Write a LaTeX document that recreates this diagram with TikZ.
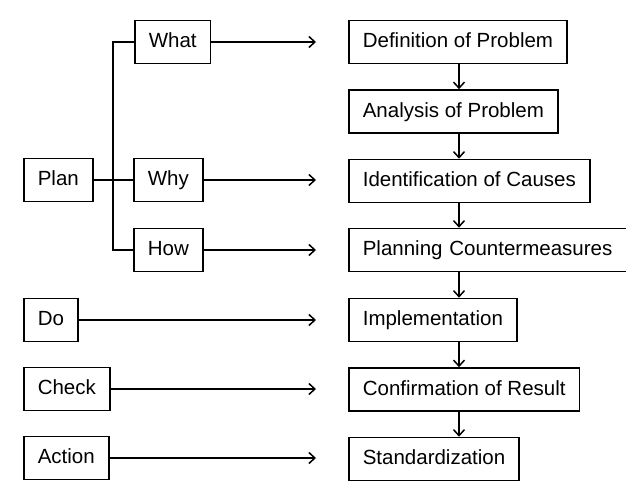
\documentclass[tikz,border=0pt]{standalone}
\usepackage{fontspec}
\setmainfont{Liberation Sans}
\usetikzlibrary{arrows.meta}
\begin{document}
\begin{tikzpicture}[x=1pt,y=-1pt,
  box/.style={draw, line width=1.6pt, minimum height=43pt, inner xsep=14pt, inner ysep=0pt,
    text height=15pt, text depth=4pt,
    font=\fontsize{20.5}{24}\selectfont, anchor=west},
  conn/.style={line width=1.5pt},
  arr/.style={line width=1.5pt, -{Straight Barb[length=6pt,width=11pt,line width=1.5pt]}}]
\useasboundingbox[fill=white] (0,0) rectangle (626,487);
% left column
\node[box] (what) at (134,42) {What};
\node[box] (plan) at (23,180) {Plan};
\node[box] (why) at (133,180) {Why};
\node[box] (how) at (133,250) {How};
\node[box] (do) at (23,320) {Do};
\node[box] (check) at (23,389) {Check};
\node[box] (act) at (23,458) {Action};
% right column
\node[box] (def) at (348,42) {Definition of Problem};
\node[box] (ana) at (348,111.5) {Analysis of Problem};
\node[box] (ide) at (348,181) {Identification of Causes};
\node[box, minimum width=290pt, align=left, text width=262pt] (pla) at (348,250) {Planning Countermeasures};
\node[box] (imp) at (348,320) {Implementation};
\node[box] (con) at (348,389.5) {Confirmation of Result};
\node[box] (sta) at (348,459) {Standardization};
% trunk
\coordinate (t1) at (113,42);
\coordinate (t2) at (113,250);
\draw[conn] (what.west) -- (t1) -- (t2) -- (how.west);
\draw[conn] (plan.east) -- (why.west);
% horizontal arrows
\coordinate (e1) at (316,42);
\coordinate (e2) at (316,180);
\coordinate (e3) at (316,250);
\coordinate (e4) at (316,320);
\coordinate (e5) at (316,389);
\coordinate (e6) at (316,458);
\draw[arr] (what.east) -- (e1);
\draw[arr] (why.east) -- (e2);
\draw[arr] (how.east) -- (e3);
\draw[arr] (do.east) -- (e4);
\draw[arr] (check.east) -- (e5);
\draw[arr] (act.east) -- (e6);
% vertical arrows
\foreach \a/\b in {def/ana,ana/ide,ide/pla,pla/imp,imp/con,con/sta}
  \draw[arr] (\a.south west -| 459,0) -- (\b.north west -| 459,0);
\end{tikzpicture}
\end{document}
